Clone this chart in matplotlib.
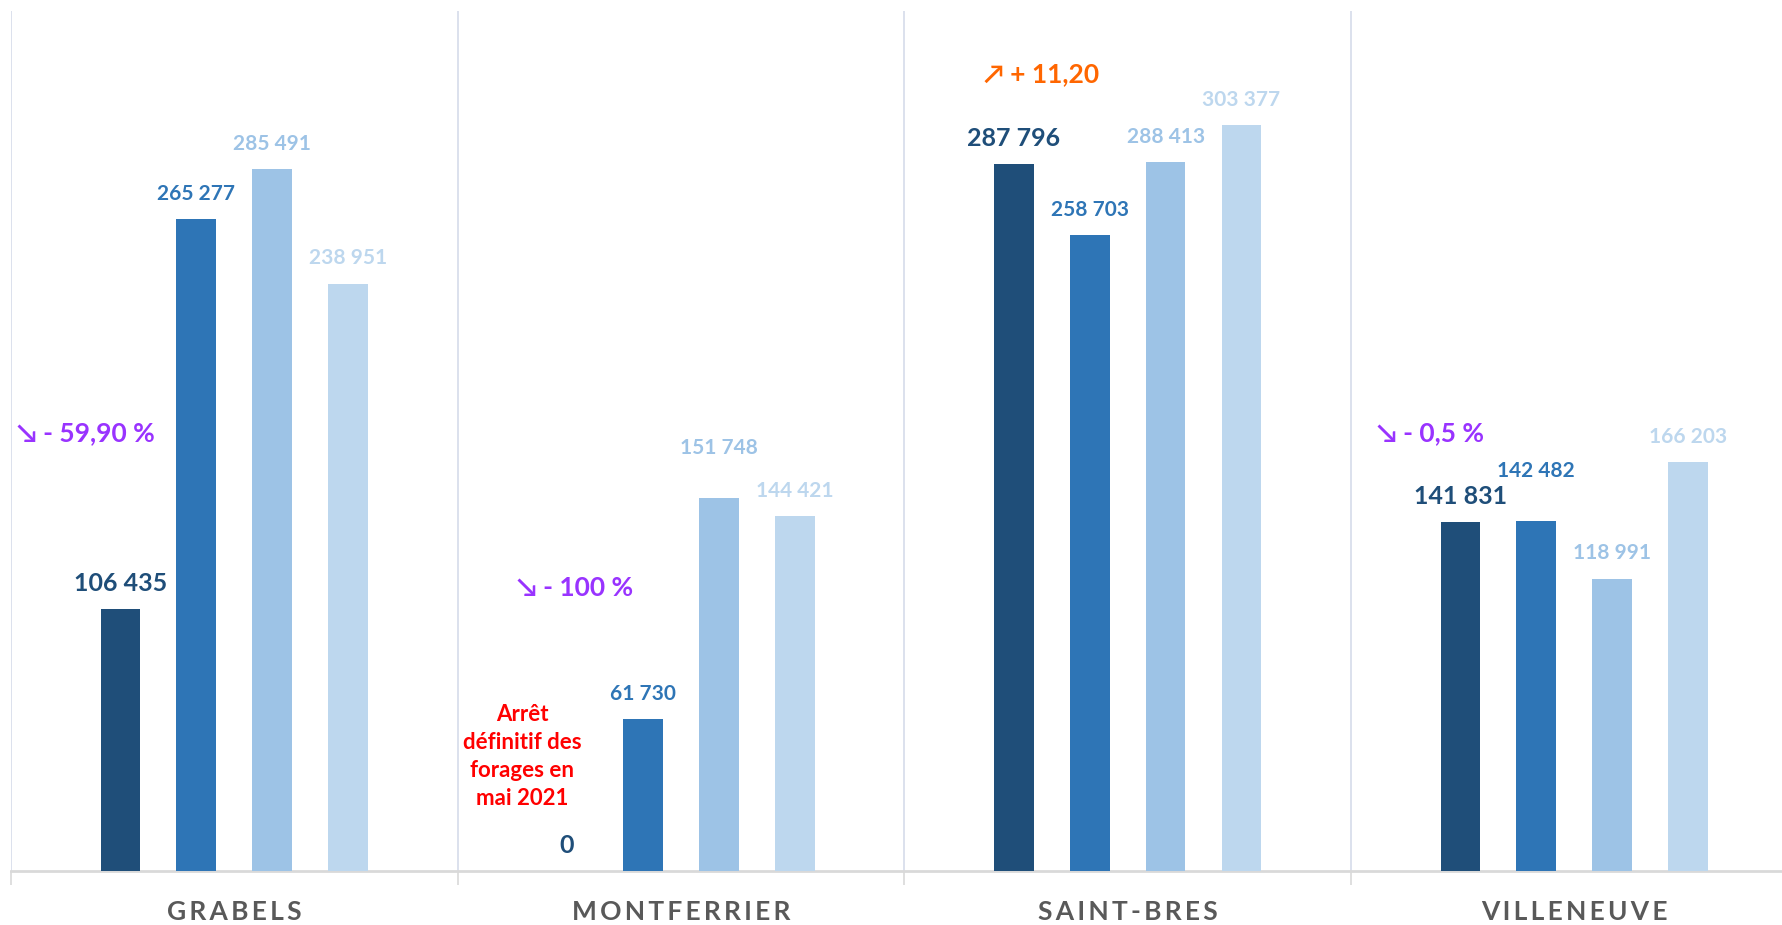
import matplotlib
matplotlib.use("Agg")
import matplotlib.pyplot as plt
import numpy as np

categories = ["GRABELS", "MONTFERRIER", "SAINT-BRES", "VILLENEUVE"]
series_a = [106435, 0, 287796, 141831]
series_b = [265277, 61730, 258703, 142482]
series_c = [285491, 151748, 288413, 118991]
series_d = [238951, 144421, 303377, 166203]
series = [series_a, series_b, series_c, series_d]
colors = ["#1F4E79", "#2E75B6", "#9DC3E6", "#BDD7EE"]
label_sizes = [18, 15, 15, 15]
# extra upward lift (points) for some labels, keyed by (series, category)
label_lift = {(1, 3): 18, (2, 1): 18}

pct_texts = ["\u2198 - 59,90 %", "\u2198 - 100 %", "\u2197 + 11,20", "\u2198 - 0,5 %"]
pct_colors = ["#9933FF", "#9933FF", "#FF6600", "#9933FF"]
pct_pos = [(-0.487, 178000), (0.632, 115200), (1.678, 324200), (2.559, 178000)]
note_text = "Arrêt\ndéfinitif des\nforages en\nmai 2021"
note_pos = (0.645, 46500)

fam = ["Lato", "DejaVu Sans"]
plt.rcParams["font.family"] = fam

fig = plt.figure(figsize=(17.82, 9.25), dpi=100)
ax = fig.add_axes([0.00617, 0.0584, 1.0026, 0.930])

x = np.arange(len(categories))
spacing = 0.17
width = 0.089
for i, (vals, col) in enumerate(zip(series, colors)):
    off = (i - 1.5) * spacing
    ax.bar(x + off, vals, width=width, color=col, zorder=3)
    for j, (xi, v) in enumerate(zip(x + off, vals)):
        base = 10 if i == 0 else 11
        ax.annotate(f"{v:,}".replace(",", " "), (xi, v),
                    xytext=(0, base + label_lift.get((i, j), 0)),
                    textcoords="offset points", ha="center", va="bottom",
                    color=col, fontsize=label_sizes[i], fontweight="bold")

for t, c, (px, py) in zip(pct_texts, pct_colors, pct_pos):
    ax.text(px, py, t, color=c, fontsize=19, fontweight="bold", ha="left", va="center")

ax.text(note_pos[0], note_pos[1], note_text, color="#FF0000", fontsize=16,
        fontweight="bold", ha="center", va="center", linespacing=1.4)

ax.set_xlim(-0.5, 3.5)
ax.set_ylim(0, 350000)
for b in [-0.5, 0.5, 1.5, 2.5]:
    ax.axvline(b, color="#D5DCEA", lw=1.2, zorder=1)

for s in ["top", "right", "left"]:
    ax.spines[s].set_visible(False)
ax.spines["bottom"].set_color("#D9D9D9")
ax.spines["bottom"].set_linewidth(2)
ax.set_yticks([])
ax.set_xticks(x)
hs = "\u2009"
ax.set_xticklabels([hs.join(list(c)) for c in categories], fontsize=19,
                   fontweight="bold", color="#595959")
ax.tick_params(axis="x", which="major", length=0, pad=21)
ax.set_xticks([-0.5, 0.5, 1.5, 2.5], minor=True)
ax.tick_params(axis="x", which="minor", length=10, color="#D9D9D9", width=1.2)

fig.savefig("out.png", dpi=100)
